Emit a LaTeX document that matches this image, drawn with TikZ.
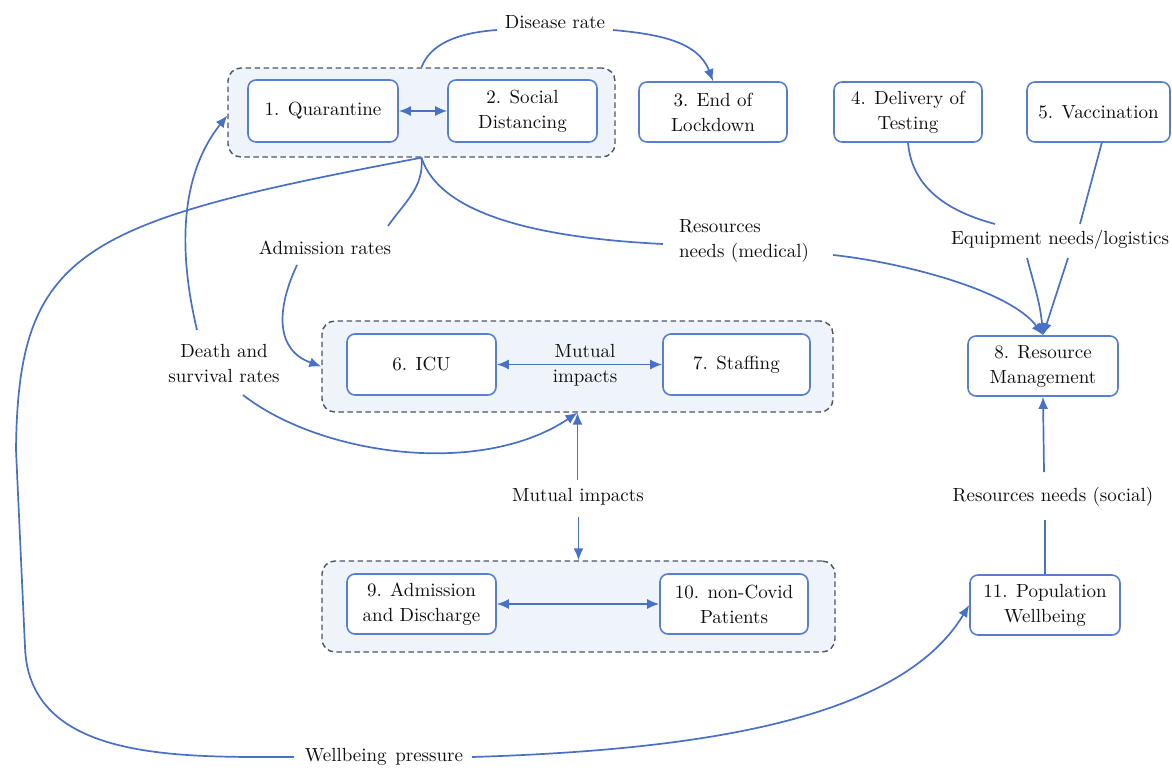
\documentclass[tikz,border=0pt]{standalone}
\usepackage{fontspec}
\newfontfamily\lmten{lmroman10-regular}[Extension=.otf]
\usetikzlibrary{arrows.meta}
\definecolor{lnblue}{RGB}{72,112,196}
\definecolor{bxblue}{RGB}{88,126,210}
\definecolor{grpfill}{RGB}{239,243,250}
\definecolor{grpline}{RGB}{78,84,100}
\definecolor{txtc}{RGB}{15,15,15}
\begin{document}
\begin{tikzpicture}[x=1pt,y=1pt,
  font=\lmten\fontsize{19}{25}\selectfont, text=txtc,
  box/.style 2 args={draw=bxblue, line width=1.6pt, rounded corners=8pt, fill=white,
    align=center, minimum width=#1, minimum height=#2, inner sep=2pt},
  grp/.style 2 args={draw=grpline, line width=1.4pt, dash pattern=on 5.5pt off 3.5pt,
    rounded corners=13pt, fill=grpfill, minimum width=#1, minimum height=#2, inner sep=0pt},
  lbl/.style={inner sep=3pt, align=center},
  conn/.style={draw=lnblue, line width=1.7pt},
  arr/.style={conn, -{Latex[length=12pt,width=10pt]}},
  darr/.style={conn, {Latex[length=12pt,width=10pt]}-{Latex[length=12pt,width=10pt]}}
]
\useasboundingbox (0,0) rectangle (1172,-771);

% groups
\node[grp={387}{89}] (g1) at (421.5,-112.5) {};
\node[grp={511}{91}] (g2) at (577.5,-366.5) {};
\node[grp={513}{91}] (g3) at (578.5,-606.5) {};

% boxes
\node[box={150}{62}] (n1) at (323,-111) {1. Quarantine};
\node[box={149}{62}] (n2) at (522.5,-111) {2. Social\\Distancing};
\node[box={148}{60}] (n3) at (713,-112) {3. End of\\Lockdown};
\node[box={148}{60}] (n4) at (908,-112) {4. Delivery of\\Testing};
\node[box={143}{60}] (n5) at (1098.5,-112) {5. Vaccination};
\node[box={149}{61}] (n6) at (421.5,-364.5) {6. ICU};
\node[box={147}{61}] (n7) at (736.5,-364.5) {7. Staffing};
\node[box={150}{60}] (n8) at (1043,-366) {8. Resource\\Management};
\node[box={149}{60}] (n9) at (421.5,-604) {9. Admission\\and Discharge};
\node[box={148}{60}] (n10) at (734,-604) {10. non-Covid\\Patients};
\node[box={150}{60}] (n11) at (1045,-605) {11. Population\\Wellbeing};

% labels
\node[lbl] (dis) at (555,-22) {Disease rate};
\node[lbl] (adm) at (325,-248) {Admission rates};
\node[lbl] (dth) at (224,-364) {Death and\\survival rates};
\node[lbl, align=left] (med) at (744,-241) {Resources\\needs (medical)};
\node[lbl] (equ) at (1060,-240) {Equipment needs/logistics};
\node[lbl] (mut1) at (585,-365) {Mutual\\impacts};
\node[lbl] (mut2) at (578,-497) {Mutual impacts};
\node[lbl] (soc) at (1053,-497) {Resources needs (social)};
\node[lbl] (wp) at (384,-757) {Wellbeing\hspace{0.45em}pressure};

% free ends next to labels
\coordinate (disL) at (497,-30);
\coordinate (disR) at (613,-30);
\coordinate (admT) at (388,-226);
\coordinate (admB) at (297,-265);
\coordinate (medL) at (663,-244);
\coordinate (medR) at (833,-255);
\coordinate (dthT) at (197,-330);
\coordinate (dthB) at (243,-395);
\coordinate (mutT) at (577.5,-480);
\coordinate (mutB) at (578.5,-517);
\coordinate (eqL) at (995,-224);
\coordinate (eqR) at (1080,-224);
\coordinate (eqBL) at (1027,-258);
\coordinate (eqBR) at (1068,-258);
\coordinate (socT) at (1044,-472);
\coordinate (socB) at (1045,-520);
\coordinate (wpL) at (294,-757);
\coordinate (wpR) at (472,-757);
\coordinate (n5s) at (1102,-142);

% connectors
\draw[conn] (g1.north) .. controls (430,-45) and (455,-33) .. (disL);
\draw[arr] (disR) .. controls (657,-34) and (698,-41) .. (n3.north);
\draw[darr] (n1.east) -- (n2.west);

\draw[conn] (g1.south) to[out=-85, in=55] (admT);
\draw[arr] (admB) to[out=-115, in=160, looseness=1.2] (g2.west);

\draw[conn] (g1.south) .. controls (440,-215) and (540,-238) .. (medL);
\draw[arr] (medR) .. controls (900,-262) and (1010,-290) .. (n8.north);

\draw[conn] (g1.south) .. controls (80,-222) and (18,-250) .. (16,-450)
  -- (25,-647) .. controls (29,-762) and (181,-757) .. (wpL);
\draw[arr] (wpR) .. controls (700,-750) and (900,-720) .. (n11.west);

\draw[arr] (dthT) .. controls (178,-250) and (180,-175) .. ([yshift=-3pt]g1.west);
\draw[arr] (dthB) .. controls (320,-455) and (480,-478) .. (g2.south);

\draw[arr] (mutT) -- (g2.south);
\draw[arr] (mutB) -- (g3.north);

\draw[darr] (n6.east) -- (n7.west);
\draw[darr] (n9.east) -- (n10.west);

\draw[conn] (n4.south) to[out=-85, in=165] (eqL);
\draw[conn] (n5s) -- (eqR);
\draw[arr] (eqBL) to[out=-75, in=95] (n8.north);
\draw[arr] (eqBR) -- (n8.north);

\draw[conn] (n11.north) -- (socB);
\draw[arr] (socT) -- (n8.south);
\end{tikzpicture}
\end{document}
